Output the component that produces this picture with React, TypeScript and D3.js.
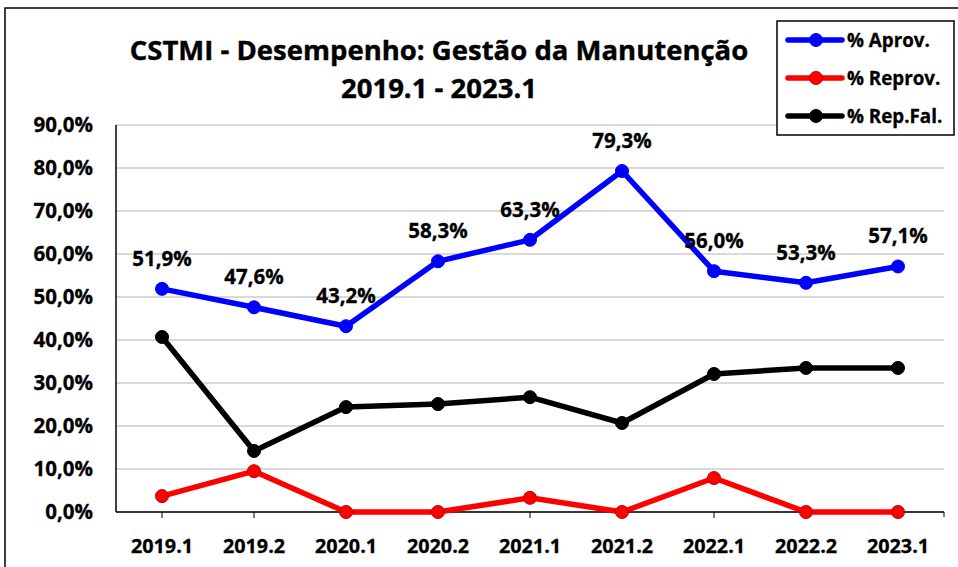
import React from "react";
import * as d3 from "d3";

const categories = ["2019.1", "2019.2", "2020.1", "2020.2", "2021.1", "2021.2", "2022.1", "2022.2", "2023.1"];
const aprov = [51.9, 47.6, 43.2, 58.3, 63.3, 79.3, 56.0, 53.3, 57.1];
const reprov = [3.7, 9.5, 0, 0, 3.3, 0, 7.9, 0, 0];
const repFal = [40.7, 14.2, 24.4, 25.1, 26.7, 20.7, 32.1, 33.5, 33.5];
const yTicks = [0, 10, 20, 30, 40, 50, 60, 70, 80, 90];

const series = [
  { name: "% Aprov.", values: aprov, color: "#0000ff", stroke: "#0000ff" },
  { name: "% Reprov.", values: reprov, color: "#ff0000", stroke: "#c00000" },
  { name: "% Rep.Fal.", values: repFal, color: "#000000", stroke: "#000000" },
];

const width = 958;
const height = 567;
const font = "'Open Sans', Lato, sans-serif";
const fmt = (v: number) => v.toFixed(1).replace(".", ",") + "%";

export default function App() {
  const left = 116, right = 944, top = 125, bottom = 512;
  const x = d3.scaleBand().domain(categories).range([left, right]);
  const y = d3.scaleLinear().domain([0, 90]).range([bottom, top]);
  const cx = (c: string) => (x(c) as number) + x.bandwidth() / 2;
  const line = d3.line<number>()
    .x((_, i) => cx(categories[i]))
    .y(d => y(d));

  return (
    <svg width={width} height={height} style={{ position: "absolute", left: 0, top: 0, background: "#fff" }}
      fontFamily={font} fontWeight="bold">
      <rect x={5} y={8} width={1000} height={600} fill="#fff" stroke="#000" strokeWidth={1.5} />

      {/* title */}
      <g stroke="#000" strokeWidth={0.4}>
        <text x={439} y={60} textAnchor="middle" fontSize={27.5}>CSTMI - Desempenho: Gestão da Manutenção</text>
        <text x={439} y={98} textAnchor="middle" fontSize={27.5}>2019.1 - 2023.1</text>
      </g>

      {/* grid */}
      {yTicks.map(t => (
        <line key={t} x1={left} x2={right} y1={y(t)} y2={y(t)} stroke="#d9d9d9" strokeWidth={2} />
      ))}
      <g stroke="#000" strokeWidth={0.3}>
        {yTicks.map(t => (
          <text key={"l" + t} x={93} y={y(t) + 7} textAnchor="end" fontSize={20.5}>{fmt(t)}</text>
        ))}
      </g>

      {/* axes */}
      <line x1={left} x2={left} y1={top} y2={bottom} stroke="#000" strokeWidth={1.5} />
      <line x1={left} x2={right} y1={bottom} y2={bottom} stroke="#000" strokeWidth={1.5} />
      {categories.map(c => (
        <g key={c}>
          <line x1={cx(c)} x2={cx(c)} y1={bottom} y2={bottom + 6} stroke="#000" strokeWidth={1} />
          <text x={cx(c)} y={553} textAnchor="middle" fontSize={19.8} stroke="#000" strokeWidth={0.3}>{c}</text>
        </g>
      ))}
      <line x1={right} x2={right} y1={bottom} y2={bottom + 5} stroke="#000" strokeWidth={1} />

      {/* series */}
      {series.map(s => (
        <g key={s.name}>
          <path d={line(s.values) as string} fill="none" stroke={s.color} strokeWidth={5.5} strokeLinejoin="round" />
          {s.values.map((v, i) => (
            <circle key={i} cx={cx(categories[i])} cy={y(v)} r={6.5} fill={s.color} stroke={s.stroke} strokeWidth={1} />
          ))}
        </g>
      ))}
      <g stroke="#000" strokeWidth={0.3}>
        {aprov.map((v, i) => (
          <text key={"d" + i} x={cx(categories[i])} y={y(v) - 23} textAnchor="middle" fontSize={20.5}>{fmt(v)}</text>
        ))}
      </g>

      {/* legend */}
      <rect x={777} y={21} width={177} height={114} fill="#fff" stroke="#000" strokeWidth={1.5} />
      {series.map((s, i) => {
        const ly = 40 + i * 38;
        return (
          <g key={"lg" + s.name}>
            <line x1={788} x2={842} y1={ly} y2={ly} stroke={s.color} strokeWidth={5.5} strokeLinecap="round" />
            <circle cx={816} cy={ly} r={6.5} fill={s.color} stroke={s.stroke} strokeWidth={1} />
            <text x={847} y={ly + 7} fontSize={18.8} stroke="#000" strokeWidth={0.3}>{s.name}</text>
          </g>
        );
      })}
    </svg>
  );
}
